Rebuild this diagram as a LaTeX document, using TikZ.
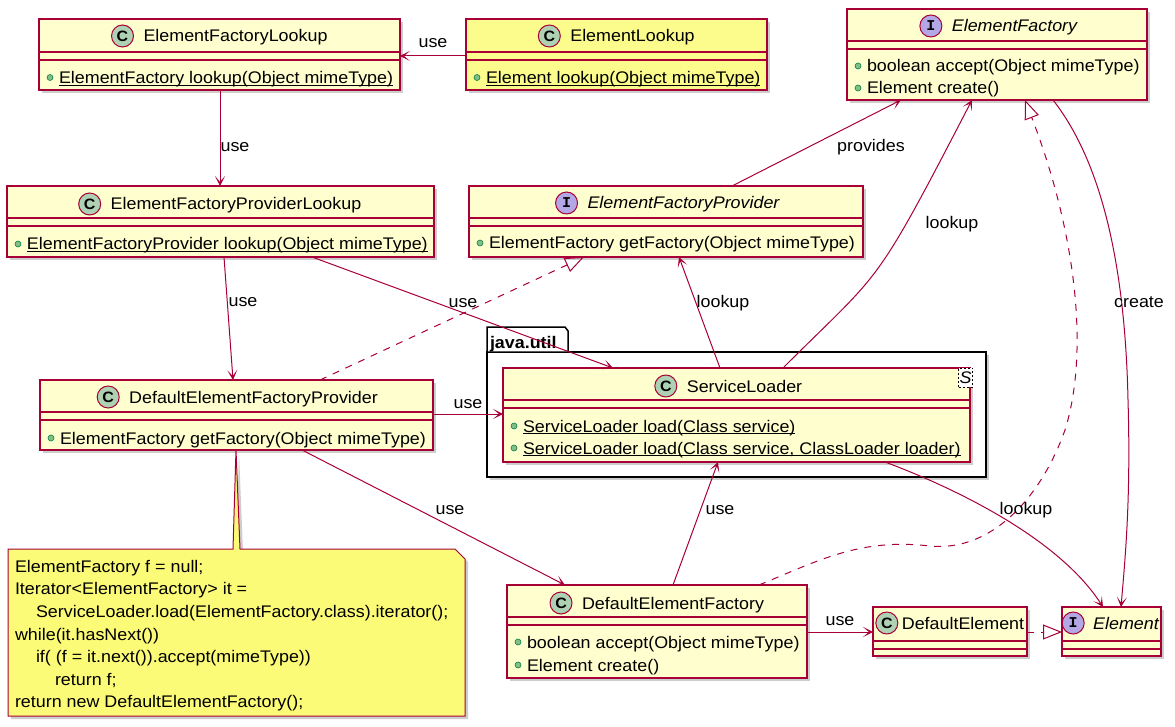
\documentclass[tikz,border=0pt]{standalone}
\usepackage{fontspec}
\setmainfont{Liberation Sans}[FakeStretch=1.065]
\newfontfamily\iconfont{Liberation Mono}
\usetikzlibrary{arrows.meta,calc,shadows}
\definecolor{umlred}{HTML}{A80036}
\definecolor{clsfill}{HTML}{FEFECE}
\definecolor{elfill}{RGB}{252,252,140}
\definecolor{notefill}{HTML}{FBFB77}
\definecolor{iconC}{HTML}{ADD1B2}
\definecolor{iconI}{HTML}{B4A7E5}
\definecolor{dotfill}{HTML}{84BE84}
\definecolor{dotline}{HTML}{038048}
\newlength\ulwd
\newcommand\undl[1]{\settowidth\ulwd{#1}\rlap{\rule[-2.2pt]{\ulwd}{1pt}}#1}
% class box: [fill]{name}{x}{y}{w}{h}{header height}
\newcommand\ucls[7][clsfill]{%
  \node[cls, fill=#1, minimum width=#5pt, minimum height=#6pt, anchor=north west] (#2) at (#3,#4) {};
  \draw[sepline] ($(#2.north west)+(0,#7)$) -- ($(#2.north east)+(0,#7)$);
  \draw[sepline] ($(#2.north west)+(0,#7+8)$) -- ($(#2.north east)+(0,#7+8)$);}
% title: {name}{cx}{cy}{icon fill}{letter}{text}{icon offset}
\newcommand\utitle[7]{%
  \node[ttl, anchor=base] (#1) at (#2,#3+6) {#6};
  \node[icon, fill=#4] (#1i) at ($(#1.base west)+(-#7,-6)$) {#5};}
% method: {name}{box left}{cy}{text}
\newcommand\umeth[4]{%
  \node[mdot] (#1d) at (#2+11,#3) {};
  \node[ttl, anchor=base west] (#1) at (#2+20,#3+6) {#4};}
\begin{document}
\begin{tikzpicture}[x=1pt,y=-1pt,
  font=\fontsize{16.8}{19}\selectfont,
  cls/.style={draw=umlred, line width=1.5pt, rectangle, inner sep=0pt, outer sep=0pt,
    drop shadow={shadow xshift=3pt,shadow yshift=-3pt,opacity=0.28,fill=black!70}},
  sepline/.style={draw=umlred, line width=1.5pt},
  ttl/.style={inner sep=0pt, outer sep=0pt},
  icon/.style={circle, draw=umlred, line width=1pt, minimum size=22pt, inner sep=0pt,
    font=\fontsize{15}{15}\selectfont},
  mdot/.style={circle, fill=dotfill, draw=dotline, line width=0.6pt, minimum size=6pt, inner sep=0pt},
  conn/.style={draw=umlred, line width=1pt},
  arr/.style={-{Stealth[length=10pt,width=10pt,inset=6pt]}},
  real/.style={dash pattern=on 7pt off 7pt, -{Triangle[open,length=19pt,width=15pt]}},
  lbl/.style={inner sep=0pt, anchor=base},
  notebox/.style={draw=umlred, line width=1pt, fill=notefill,
    drop shadow={shadow xshift=3pt,shadow yshift=-3pt,opacity=0.28,fill=black!70}},
  pkg/.style={draw=black, line width=1.5pt, fill=white}
]
\fill[white] (0,0) rectangle (1175,727);
\useasboundingbox (0,0) rectangle (1175,727);

% ---- package java.util
\path[pkg, drop shadow={shadow xshift=3pt,shadow yshift=-3pt,opacity=0.28,fill=black!70}]
  (487,352) rectangle (986,477);
\path[pkg] (487,352) -- (487,327) -- (565,327) -- (568,331) -- (568,352) -- cycle;
\node[ttl, anchor=base west, font=\fontsize{16.8}{19}\selectfont\bfseries] (pkgl) at (490,348) {java.util};

% ---- classes
\ucls{efl}{39}{19}{361}{71}{33}
\utitle{eflt}{235.5}{36}{iconC}{\bfseries C}{ElementFactoryLookup}{21}
\umeth{eflm}{39}{77.5}{\undl{ElementFactory lookup(Object mimeType)}}

\ucls[elfill]{el}{466}{19}{301}{71}{33}
\utitle{elt}{632.5}{36}{iconC}{\bfseries C}{ElementLookup}{21}
\umeth{elm}{466}{77.5}{\undl{Element lookup(Object mimeType)}}

\ucls{ef}{847}{9}{300}{91}{32}
\utitle{eft}{1014.5}{26}{iconI}{\iconfont\bfseries I}{\itshape ElementFactory}{21}
\umeth{efma}{847}{66}{boolean accept(Object mimeType)}
\umeth{efmb}{847}{88}{Element create()}

\ucls{efpl}{7}{186}{427}{71}{32}
\utitle{efplt}{236}{204}{iconC}{\bfseries C}{ElementFactoryProviderLookup}{21}
\umeth{efplm}{7}{244}{\undl{ElementFactoryProvider lookup(Object mimeType)}}

\ucls{efp}{469}{186}{394}{71}{32}
\utitle{efpt}{683.5}{203}{iconI}{\iconfont\bfseries I}{\itshape ElementFactoryProvider}{21}
\umeth{efpm}{469}{243}{ElementFactory getFactory(Object mimeType)}

\ucls{sl}{503}{368}{467}{94}{32}
\utitle{slt}{744.5}{386}{iconC}{\bfseries C}{ServiceLoader}{21}
\umeth{slma}{503}{426}{\undl{ServiceLoader load(Class service)}}
\umeth{slmb}{503}{448}{\undl{ServiceLoader load(Class service, ClassLoader loader)}}
\node[draw=black, fill=white, line width=0.6pt, dash pattern=on 2pt off 2pt, minimum width=14pt,
  minimum height=19pt, inner sep=0pt, anchor=north east] (stag) at ($(sl.north east)+(3,0)$) {\itshape S};

\ucls{defp}{40}{380}{393}{70}{32}
\utitle{defpt}{253.5}{397}{iconC}{\bfseries C}{DefaultElementFactoryProvider}{21}
\umeth{defpm}{40}{438}{ElementFactory getFactory(Object mimeType)}

\ucls{def}{507}{585}{300}{93}{32}
\utitle{deft}{673}{603}{iconC}{\bfseries C}{DefaultElementFactory}{21}
\umeth{defma}{507}{642}{boolean accept(Object mimeType)}
\umeth{defmb}{507}{665}{Element create()}

\ucls{de}{873}{607}{154}{49}{34}
\utitle{det}{963}{623}{iconC}{\bfseries C}{DefaultElement}{15}

\ucls{elem}{1062}{607}{99}{49}{34}
\utitle{elemt}{1126}{623}{iconI}{\iconfont\bfseries I}{\itshape Element}{20}

% ---- note
\coordinate (nt) at ($(defp.south west)+(196,0)$);
\path[notebox] (8,549) -- (233,549) -- (nt) -- (240,549) -- (455,549) -- (465,559) -- (465,716) -- (8,716) -- cycle;
\node[ttl, anchor=base west] (n1) at (15,572.3) {ElementFactory f = null;};
\node[ttl, anchor=base west] (n2) at (15,594.9) {Iterator<ElementFactory> it =};
\node[ttl, anchor=base west] (n3) at (36,617.5) {ServiceLoader.load(ElementFactory.class).iterator();};
\node[ttl, anchor=base west] (n4) at (15,640.1) {while(it.hasNext())};
\node[ttl, anchor=base west] (n5) at (36,662.7) {if( (f = it.next()).accept(mimeType))};
\node[ttl, anchor=base west] (n6) at (55,685.3) {return f;};
\node[ttl, anchor=base west] (n7) at (15,707.9) {return new DefaultElementFactory();};

% ---- connectors
\draw[conn,arr] ($(el.north west)+(0,37)$) -- ($(efl.north east)+(0,37)$);
\node[lbl] (l1) at (433,48) {use};

\draw[conn,arr] ($(efl.south west)+(181,0)$) -- ($(efpl.north west)+(213,0)$);
\node[lbl] (l2) at (235,152) {use};

\draw[conn,arr] ($(efpl.south west)+(217,0)$) -- ($(defp.north west)+(193,0)$);
\node[lbl] (l3) at (243,306) {use};

\draw[conn,arr] ($(efpl.south west)+(305,0)$) -- ($(sl.north west)+(110,0)$);
\node[lbl] (l4) at (463,307) {use};

\draw[conn,arr] ($(defp.north east)+(0,34)$) -- ($(sl.north west)+(0,46)$);
\node[lbl] (l5) at (468,408) {use};

\draw[conn,real] ($(defp.north west)+(280,0)$) -- ($(efp.south west)+(115,0)$);

\draw[conn,arr] ($(defp.south west)+(262,0)$) -- ($(def.north west)+(58,0)$);
\node[lbl] (l6) at (450,514) {use};

\draw[conn,arr] ($(def.north west)+(166,0)$) -- ($(sl.south west)+(215,0)$);
\node[lbl] (l7) at (720,514) {use};

\draw[conn,arr] ($(sl.north west)+(217,0)$) -- ($(efp.south west)+(210,0)$);
\node[lbl] (l8) at (723,307) {lookup};

\draw[conn,arr] ($(efp.north west)+(263,0)$) -- ($(ef.south west)+(54,0)$);
\node[lbl] (l9) at (871,152) {provides};

\draw[conn,arr] ($(sl.north west)+(280,0)$) .. controls (883,268) and (872,293) .. ($(ef.south west)+(125,0)$);
\node[lbl] (l10) at (952,229) {lookup};

\draw[conn,real] ($(def.north west)+(252,0)$)
  .. controls (820,560) and (860,538) .. (930,546)
  .. controls (990,552) and (1040,500) .. (1065,430)
  .. controls (1090,350) and (1075,230) .. ($(ef.south west)+(178,0)$);

\draw[conn,arr] ($(ef.south west)+(206,0)$)
  .. controls (1100,160) and (1125,260) .. (1128,400)
  .. controls (1131,500) and (1125,560) .. ($(elem.north west)+(59,0)$);
\node[lbl] (l11) at (1139,307) {create};

\draw[conn,arr] ($(sl.south west)+(382,0)$)
  .. controls (960,490) and (1060,540) .. ($(elem.north west)+(41,0)$);
\node[lbl] (l12) at (1026,514) {lookup};

\draw[conn,arr] ($(def.north west)+(300,47)$) -- ($(de.north west)+(0,25)$);
\node[lbl] (l13) at (840,625) {use};

\draw[conn,real] ($(de.north east)+(0,25)$) -- ($(elem.north west)+(0,25)$);
\end{tikzpicture}
\end{document}
